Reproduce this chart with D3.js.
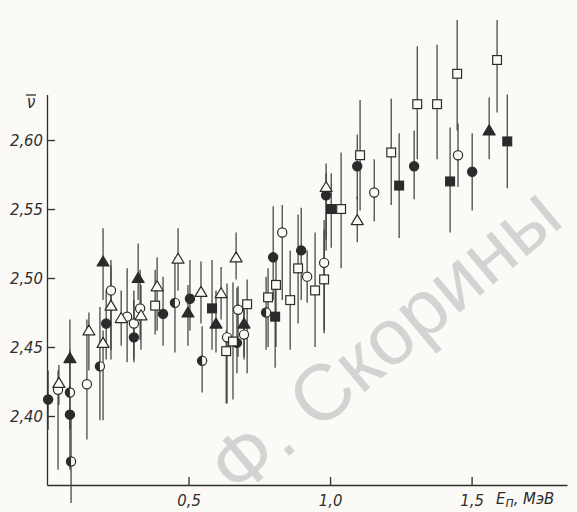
<!DOCTYPE html>
<html>
<head>
<meta charset="utf-8">
<script src="https://cdn.jsdelivr.net/npm/d3@7"></script>
<style>
body { margin: 0; background: #fbfaf6; }
.axis text { font-family: "DejaVu Sans Condensed", "DejaVu Sans", sans-serif; font-style: italic; font-size: 16.5px; fill: #2f2f2f; }
.axis path, .axis line { stroke: #2f2f2f; stroke-width: 1.3; }
</style>
</head>
<body>
<svg width="577" height="512"></svg>
<script>
// rows: [E (MeV), nu, nu lower end of bar, nu upper end of bar]
var filledCircles = [
  [0.004, 2.412, 2.390, 2.433], [0.081, 2.401, 2.361, 2.422], [0.209, 2.467, 2.441, 2.491],
  [0.307, 2.457, 2.439, 2.484], [0.410, 2.474, 2.451, 2.501], [0.505, 2.485, 2.462, 2.513],
  [0.671, 2.453, 2.431, 2.493], [0.799, 2.515, 2.484, 2.552], [0.898, 2.520, 2.484, 2.551],
  [0.986, 2.560, 2.520, 2.576], [1.096, 2.581, 2.557, 2.604], [1.297, 2.581, 2.557, 2.607],
  [1.502, 2.577, 2.549, 2.605]
];
var openCircles = [
  [0.039, 2.419, 2.361, 2.433], [0.141, 2.423, 2.383, 2.470], [0.226, 2.491, 2.448, 2.513],
  [0.283, 2.472, 2.439, 2.507], [0.307, 2.467, 2.441, 2.491], [0.329, 2.478, 2.455, 2.506],
  [0.636, 2.457, 2.409, 2.496], [0.675, 2.477, 2.443, 2.494], [0.696, 2.459, 2.441, 2.477],
  [0.831, 2.533, 2.484, 2.553], [0.919, 2.501, 2.482, 2.520], [0.979, 2.511, 2.460, 2.542],
  [1.156, 2.562, 2.541, 2.586], [1.452, 2.589, 2.566, 2.612]
];
var halfCircles = [
  [0.081, 2.417, 2.390, 2.448], [0.085, 2.367, 2.337, 2.404], [0.187, 2.436, 2.397, 2.479],
  [0.452, 2.482, 2.446, 2.515], [0.548, 2.440, 2.417, 2.465], [0.774, 2.475, 2.448, 2.501]
];
var filledTriangles = [
  [0.081, 2.442, 2.415, 2.470], [0.198, 2.512, 2.484, 2.536], [0.322, 2.500, 2.484, 2.525],
  [0.498, 2.475, 2.451, 2.495], [0.597, 2.467, 2.446, 2.491], [0.696, 2.467, 2.443, 2.479],
  [1.562, 2.607, 2.586, 2.631]
];
var openTriangles = [
  [0.042, 2.424, 2.408, 2.437], [0.148, 2.462, 2.433, 2.475], [0.198, 2.453, 2.397, 2.462],
  [0.226, 2.480, 2.441, 2.509], [0.262, 2.471, 2.451, 2.491], [0.332, 2.473, 2.448, 2.495],
  [0.389, 2.494, 2.462, 2.515], [0.463, 2.514, 2.491, 2.536], [0.544, 2.490, 2.467, 2.512],
  [0.615, 2.489, 2.470, 2.508], [0.668, 2.515, 2.499, 2.533], [0.986, 2.566, 2.528, 2.583],
  [1.096, 2.542, 2.526, 2.559]
];
var filledSquares = [
  [0.583, 2.478, 2.448, 2.513], [0.806, 2.472, 2.435, 2.499], [1.004, 2.550, 2.522, 2.576],
  [1.244, 2.567, 2.529, 2.605], [1.424, 2.570, 2.533, 2.609], [1.626, 2.599, 2.565, 2.633]
];
var openSquares = [
  [0.382, 2.480, 2.459, 2.506], [0.633, 2.447, 2.409, 2.462], [0.657, 2.454, 2.412, 2.497],
  [0.707, 2.481, 2.431, 2.499], [0.781, 2.486, 2.450, 2.507], [0.809, 2.495, 2.450, 2.513],
  [0.859, 2.484, 2.448, 2.520], [0.887, 2.507, 2.467, 2.546], [0.947, 2.491, 2.450, 2.533],
  [0.979, 2.499, 2.462, 2.535], [1.039, 2.550, 2.507, 2.591], [1.106, 2.589, 2.549, 2.629],
  [1.216, 2.591, 2.553, 2.630], [1.308, 2.626, 2.586, 2.668], [1.378, 2.626, 2.586, 2.669],
  [1.449, 2.648, 2.607, 2.687], [1.590, 2.658, 2.620, 2.687]
];
var xTicks = [0.5, 1.0, 1.5];
var yTicks = [2.40, 2.45, 2.50, 2.55, 2.60];

var ink = "#2b2b2b", paper = "#fbfaf6";
var svg = d3.select("svg");

var x = d3.scaleLinear().domain([0, 1.837]).range([47, 567]);
var y = d3.scaleLinear().domain([2.35, 2.633]).range([485, 94.5]);

var comma = function(d) { return d3.format(".2f")(d).replace(".", ","); };

// watermark of the library stamp
svg.append("text")
    .attr("transform", "translate(384,340) rotate(-40)")
    .attr("text-anchor", "middle")
    .attr("dy", "0.35em")
    .style("font-family", "Liberation Sans, Arial, sans-serif")
    .style("font-size", "79px")
    .style("fill", "#d3d3d3")
    .text("Ф. Скорины");

// axes
svg.append("g")
    .attr("class", "axis")
    .attr("transform", "translate(0," + y(2.35) + ")")
    .call(d3.axisBottom(x).tickValues(xTicks).tickSize(-8).tickSizeOuter(0).tickPadding(9)
        .tickFormat(function(d) { return d3.format(".1f")(d).replace(".", ","); }));

svg.append("g")
    .attr("class", "axis")
    .attr("transform", "translate(" + x(0) + ",0)")
    .call(d3.axisLeft(y).tickValues(yTicks).tickSize(-8).tickSizeOuter(0).tickPadding(4)
        .tickFormat(comma));

// axis titles
var nu = svg.append("g").attr("class", "axis");
nu.append("text").attr("x", 31).attr("y", 108).attr("text-anchor", "middle")
    .style("font-size", "17px").text("ν");
nu.append("line").attr("x1", 26).attr("x2", 36).attr("y1", 95).attr("y2", 95);

var el = svg.append("text").attr("class", "axis").attr("x", 496).attr("y", 504);
el.append("tspan").style("font-family", "DejaVu Sans Condensed, sans-serif").style("font-style", "italic")
    .style("font-size", "16.5px").style("fill", ink).text("E");
el.append("tspan").attr("dy", 3).style("font-family", "DejaVu Sans Condensed, sans-serif")
    .style("font-style", "italic").style("font-size", "14px").style("fill", ink).text("п");
el.append("tspan").attr("dy", -3).style("font-family", "DejaVu Sans Condensed, sans-serif")
    .style("font-style", "italic").style("font-size", "16.5px").style("fill", ink).text(", МэВ");

// all series, for error bars
var series = [
  {rows: filledCircles, kind: "fc"}, {rows: openCircles, kind: "oc"}, {rows: halfCircles, kind: "hc"},
  {rows: filledTriangles, kind: "ft"}, {rows: openTriangles, kind: "ot"},
  {rows: filledSquares, kind: "fs"}, {rows: openSquares, kind: "os"}
];

var bars = svg.append("g");
series.forEach(function(s) {
    bars.selectAll(null).data(s.rows).enter().append("line")
        .attr("x1", function(d) { return x(d[0]); })
        .attr("x2", function(d) { return x(d[0]); })
        .attr("y1", function(d) { return y(d[2]); })
        .attr("y2", function(d) { return y(d[3]); })
        .attr("stroke", "#3a3a3a")
        .attr("stroke-width", 1.2);
});

var marks = svg.append("g");
series.forEach(function(s) {
    var g = marks.selectAll(null).data(s.rows).enter().append("g")
        .attr("transform", function(d) { return "translate(" + x(d[0]) + "," + y(d[1]) + ")"; });
    if (s.kind == "fc" || s.kind == "oc" || s.kind == "hc") {
        g.append("circle").attr("r", 4.6)
            .attr("fill", s.kind == "fc" ? ink : paper)
            .attr("stroke", ink).attr("stroke-width", 1.2);
        if (s.kind == "hc") {
            g.append("path").attr("d", "M0,-4.6A4.6,4.6 0 0 0 0,4.6Z").attr("fill", ink);
        }
    } else if (s.kind == "ft" || s.kind == "ot") {
        g.append("path").attr("d", "M0,-5.5L6,4.5L-6,4.5Z")
            .attr("fill", s.kind == "ft" ? ink : paper)
            .attr("stroke", ink).attr("stroke-width", 1.2).attr("stroke-linejoin", "round");
    } else {
        g.append("rect").attr("x", -4.4).attr("y", -4.4).attr("width", 8.8).attr("height", 8.8)
            .attr("fill", s.kind == "fs" ? ink : paper)
            .attr("stroke", ink).attr("stroke-width", 1.2);
    }
});
</script>
</body>
</html>
